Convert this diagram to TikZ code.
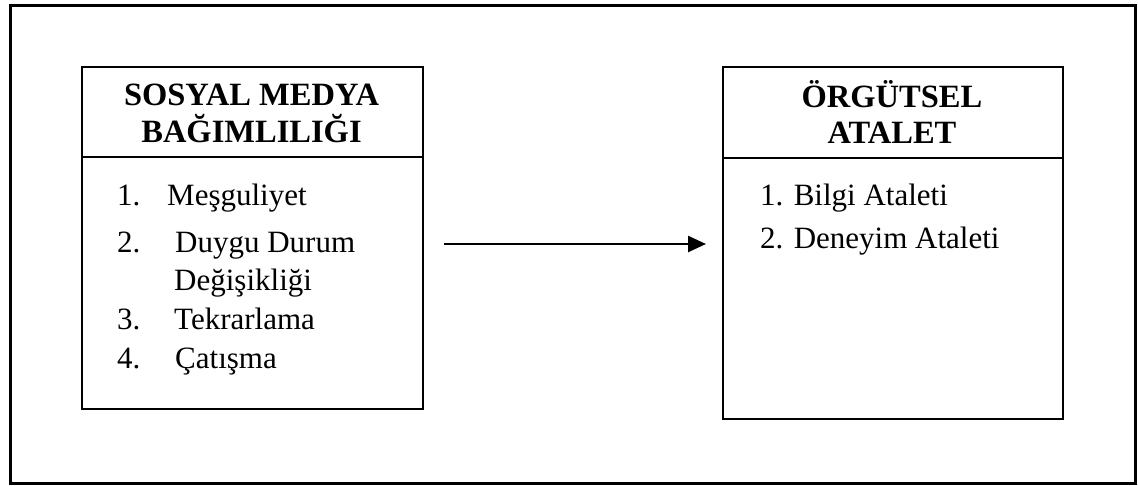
\documentclass[tikz,border=0pt]{standalone}
\usepackage{fontspec}
\setmainfont{Liberation Serif}
\usetikzlibrary{arrows.meta}
\begin{document}
\begin{tikzpicture}[x=1pt,y=-1pt,
  frame/.style={draw, line width=3pt},
  box/.style={draw, line width=2.2pt, inner sep=0pt, anchor=north west},
  rule/.style={line width=2.2pt},
  head/.style={font=\fontsize{32.5}{38}\selectfont\bfseries, inner sep=0pt, anchor=base},
  item/.style={font=\fontsize{31}{36}\selectfont, inner sep=0pt, anchor=base west},
  arr/.style={line width=2.6pt, -{Triangle[length=18pt,width=16pt]}}]
\useasboundingbox (0,0) rectangle (1138,485);
\node[frame, anchor=north west, inner sep=0pt, minimum width=1125pt, minimum height=478pt] (outer) at (9,4) {};
% left box
\node[box, minimum width=341pt, minimum height=342pt] (lbox) at (81,66) {};
\draw[rule] (lbox.west |- 0,157) -- (lbox.east |- 0,157);
\node[head] (lh1) at (251.5,105) {SOSYAL MEDYA};
\node[head] (lh2) at (251.5,142) {BAĞIMLILIĞI};
\node[item] (l1n) at (117,205) {1.};
\node[item] (l1) at (167,205) {Meşguliyet};
\node[item] (l2n) at (117,252) {2.};
\node[item] (l2) at (175,252) {Duygu Durum};
\node[item] (l2b) at (174,290) {Değişikliği};
\node[item] (l3n) at (117,329) {3.};
\node[item] (l3) at (174,329) {Tekrarlama};
\node[item] (l4n) at (117,368) {4.};
\node[item] (l4) at (175,368) {Çatışma};
% right box
\node[box, minimum width=340pt, minimum height=352pt] (rbox) at (722,66) {};
\draw[rule] (rbox.west |- 0,158) -- (rbox.east |- 0,158);
\node[head] (rh1) at (892,107) {ÖRGÜTSEL};
\node[head] (rh2) at (892,143) {ATALET};
\node[item] (r1) at (760,205) {1. Bilgi Ataleti};
\node[item] (r2) at (760,248) {2. Deneyim Ataleti};
% arrow
\draw[arr, shorten <=20pt, shorten >=16pt] (lbox.east |- 0,244) -- (rbox.west |- 0,244);
\end{tikzpicture}
\end{document}
